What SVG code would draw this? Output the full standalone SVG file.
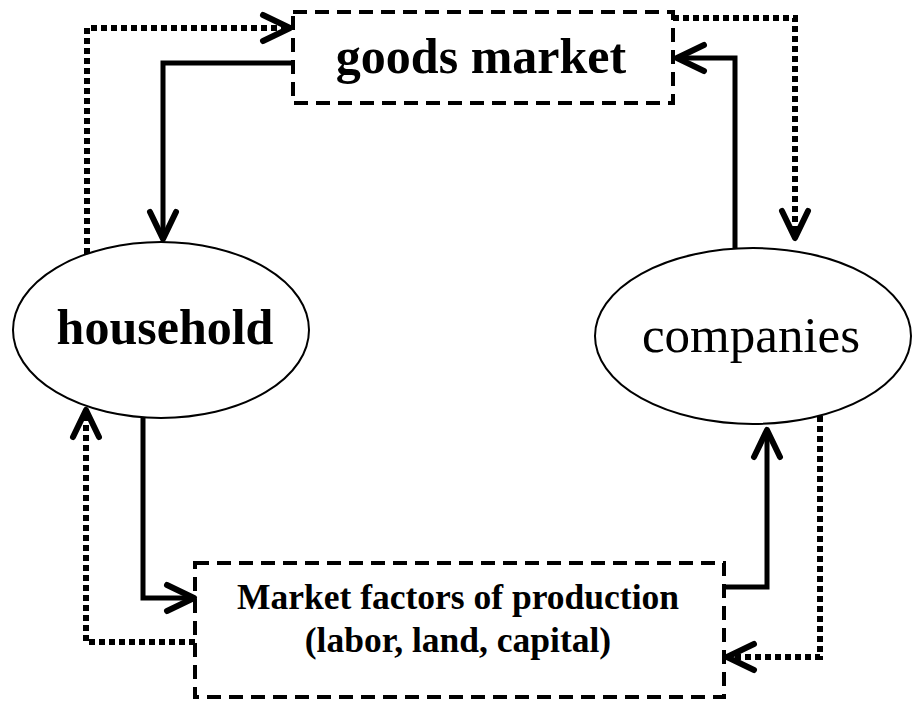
<svg xmlns="http://www.w3.org/2000/svg" width="913" height="704" viewBox="0 0 913 704">
<style>
.box{fill:none;stroke:#000;stroke-width:4;stroke-dasharray:14 8}
.ell{fill:#fff;stroke:#000;stroke-width:2}
.solid{fill:none;stroke:#000;stroke-width:5}
.dot{fill:none;stroke:#000;stroke-width:6;stroke-dasharray:6 4}
.t{font-family:"Liberation Serif","Times New Roman",serif;fill:#000;text-anchor:middle}
.b{font-weight:bold}
</style>
<defs>
<marker id="chev" markerUnits="userSpaceOnUse" viewBox="-34 -20 40 40" markerWidth="40" markerHeight="40" refX="0" refY="0" orient="auto" overflow="visible">
<path d="M-27,-13 L0,0 L-27,13" fill="none" stroke="#000" stroke-width="6" stroke-linecap="round" stroke-linejoin="round"/>
</marker>
</defs>
<rect width="913" height="704" fill="#fff"/>
<g id="goods-market">
<rect class="box" x="293" y="12" width="380" height="91"/>
<text class="t b" x="481" y="73" font-size="50">goods market</text>
</g>
<g id="household">
<ellipse class="ell" cx="161" cy="330" rx="148" ry="88"/>
<text class="t b" x="165" y="344" font-size="50">household</text>
</g>
<g id="companies">
<ellipse class="ell" cx="753" cy="336" rx="158" ry="88"/>
<text class="t" x="751" y="352" font-size="51">companies</text>
</g>
<g id="factor-market">
<rect class="box" x="195" y="563" width="529" height="134"/>
<text class="t b" x="458" y="609" font-size="35.5">Market factors of production</text>
<text class="t b" x="458" y="652" font-size="35.5">(labor, land, capital)</text>
</g>
<g id="connectors">
<path class="solid" d="M293,63 H163 V239" marker-end="url(#chev)"/>
<path class="dot" d="M87,254 V28 H290" marker-end="url(#chev)"/>
<path class="solid" d="M735,249 V58 H677" marker-end="url(#chev)"/>
<path class="dot" d="M673,18 H795 V238" marker-end="url(#chev)"/>
<path class="solid" d="M143,418 V598 H194" marker-end="url(#chev)"/>
<path class="dot" d="M195,642 H86 V410" marker-end="url(#chev)"/>
<path class="solid" d="M724,587 H767 V430" marker-end="url(#chev)"/>
<path class="dot" d="M820,416 V657 H727" marker-end="url(#chev)"/>
</g>
</svg>
